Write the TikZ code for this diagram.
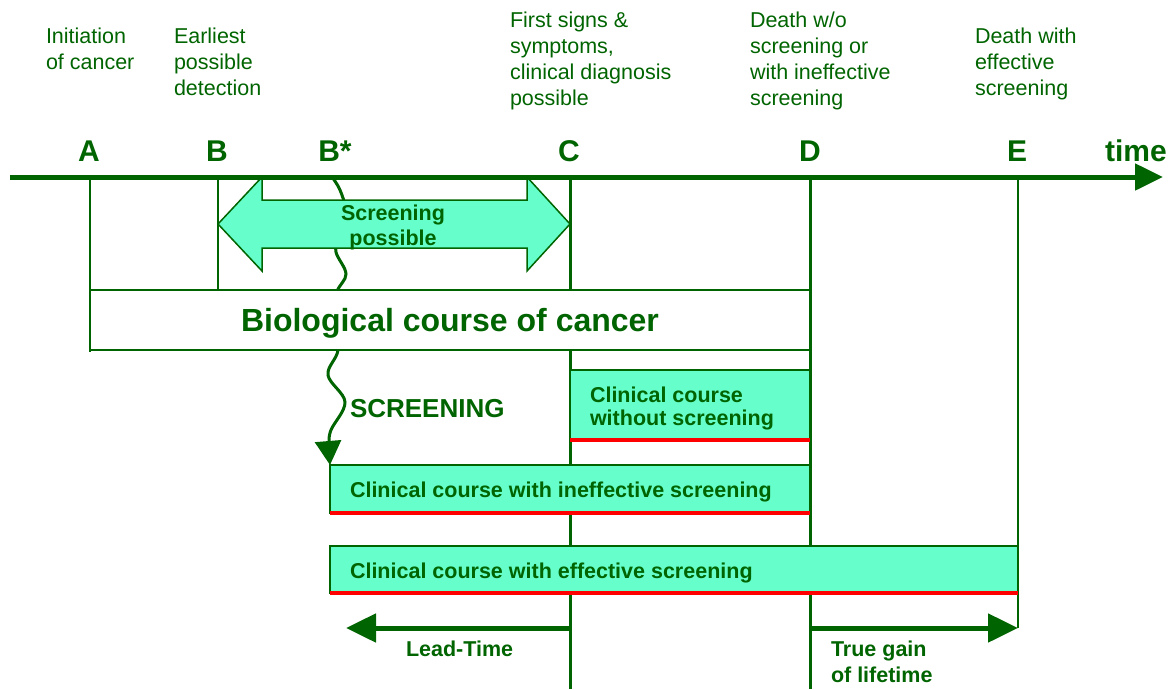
\documentclass[tikz,border=0pt]{standalone}
\usepackage{fontspec}
\setmainfont{Liberation Sans}
\usetikzlibrary{arrows.meta}
\definecolor{dgreen}{RGB}{0,100,0}
\definecolor{aqua}{RGB}{102,255,204}
\definecolor{redline}{RGB}{255,0,0}
\begin{document}
\begin{tikzpicture}[x=1pt,y=-1pt,
  every node/.style={inner sep=0pt, outer sep=0pt, text=dgreen},
  thinline/.style={draw=dgreen, line width=1.5pt},
  thickline/.style={draw=dgreen, line width=3pt},
  clinbox/.style={fill=aqua, draw=dgreen, line width=1.1pt, anchor=north west},
  biobox/.style={fill=white, draw=dgreen, line width=1.3pt, anchor=north west},
  redbar/.style={draw=redline, line width=4pt},
  regtext/.style={font=\fontsize{21.5}{26}\selectfont, align=left, anchor=north west},
  letter/.style={font=\fontsize{30}{34}\selectfont\bfseries, anchor=base},
  boxtext/.style={font=\fontsize{21.5}{23.5}\selectfont\bfseries, anchor=base west},
  bigarrow/.style={draw=dgreen, line width=5pt, -{Triangle[length=30pt,width=28pt]}}
]
\useasboundingbox (0,0) rectangle (1173,689);

% coordinates on the time axis
\coordinate (axL) at (10,177);
\coordinate (axR) at (1163,177);
\coordinate (A0) at (90,177);   \coordinate (A1) at (90,352);
\coordinate (B0) at (218,177);  \coordinate (B1) at (218,290);
\coordinate (Bs) at (332,177);
\coordinate (C0) at (570,177);  \coordinate (C1) at (570,689);
\coordinate (D0) at (810,177);  \coordinate (D1) at (810,689);
\coordinate (E0) at (1018,177); \coordinate (E1) at (1018,628);

% vertical lines
\draw[thinline] (A0) -- (A1);
\draw[thinline] (B0) -- (B1);
\draw[thickline] (C0) -- (C1);
\draw[thickline] (D0) -- (D1);
\draw[thinline] (E0) -- (E1);

% clinical course boxes
\node[clinbox, minimum width=480pt, minimum height=48pt] (ineff) at (330,465) {};
\node[clinbox, minimum width=688pt, minimum height=47pt] (eff) at (330,546) {};
\node[clinbox, minimum width=240pt, minimum height=70pt] (without) at (570,370) {};

% wavy screening line
\draw[dgreen, line width=3pt, -{Triangle[length=24pt,width=26pt]}]
  plot[smooth, tension=0.6] coordinates {(Bs) (340,190) (345,210) (338,235) (336,252) (346,274) (337,292) (334,320) (338,350) (328,375) (345,402) (331,430) (329,445) (ineff.north west)};

% screening possible double arrow
\draw[fill=aqua, draw=dgreen, line width=1.5pt, line join=miter]
  (B0 |- 0,224) -- (262,177) -- (262,200) -- (527,200) -- (527,177) -- (C0 |- 0,224)
  -- (527,271) -- (527,248) -- (262,248) -- (262,271) -- cycle;
\node[font=\fontsize{21.5}{25}\selectfont\bfseries, anchor=base] (scrposs) at (393,220) {Screening};
\node[font=\fontsize{21.5}{25}\selectfont\bfseries, anchor=base] (scrposs2) at (393,245) {possible};

% biological course box
\node[biobox, minimum width=720pt, minimum height=60pt] (bio) at (90,290) {};
\node[font=\fontsize{32}{35}\selectfont\bfseries, anchor=base] (biotext) at (450,331) {Biological course of cancer};
\draw[thickline] (bio.north east) -- (bio.south east);

% red bars
\draw[redbar] (without.south west) -- (without.south east);
\draw[redbar] (ineff.south west) -- (ineff.south east);
\draw[redbar] (eff.south west) -- (eff.south east);

% time axis
\draw[draw=dgreen, line width=5pt, -{Triangle[length=28pt,width=26pt]}] (axL) -- (axR);

% box texts
\node[boxtext] (t1) at (590,402) {Clinical course};
\node[boxtext] (t2) at (590,425) {without screening};
\node[boxtext] (t3) at (350,497) {Clinical course with ineffective screening};
\node[boxtext] (t4) at (350,578) {Clinical course with effective screening};
\node[font=\fontsize{26}{28}\selectfont\bfseries, anchor=base west] (scr) at (350,417) {SCREENING};

% lead time and gain arrows
\coordinate (LT0) at (570,628); \coordinate (LT1) at (346,628);
\coordinate (TG0) at (810,628); \coordinate (TG1) at (1018,628);
\draw[bigarrow] (LT0) -- (LT1);
\draw[bigarrow] (TG0) -- (TG1);
\node[boxtext] (lt) at (406,656) {Lead-Time};
\node[boxtext] (tg1) at (831,656) {True gain};
\node[boxtext] (tg2) at (831,682) {of lifetime};

% letters
\node[letter] (la) at (89,161) {A};
\node[letter] (lb) at (217,161) {B};
\node[letter] (lbs) at (335,161) {B*};
\node[letter] (lc) at (569,161) {C};
\node[letter] (ld) at (810,161) {D};
\node[letter] (le) at (1017,161) {E};
\node[font=\fontsize{30}{34}\selectfont\bfseries, anchor=base west] (ltime) at (1105,161) {time};

% top labels
\node[regtext] (ini) at (46,28) {Initiation\\of cancer};
\node[regtext] (ear) at (174,28) {Earliest\\possible\\detection};
\node[regtext] (fir) at (510,12) {First signs \&\\symptoms,\\clinical diagnosis\\possible};
\node[regtext] (dwo) at (750,12) {Death w/o\\screening or\\with ineffective\\screening};
\node[regtext] (dwi) at (975,28) {Death with\\effective\\screening};
\end{tikzpicture}
\end{document}
